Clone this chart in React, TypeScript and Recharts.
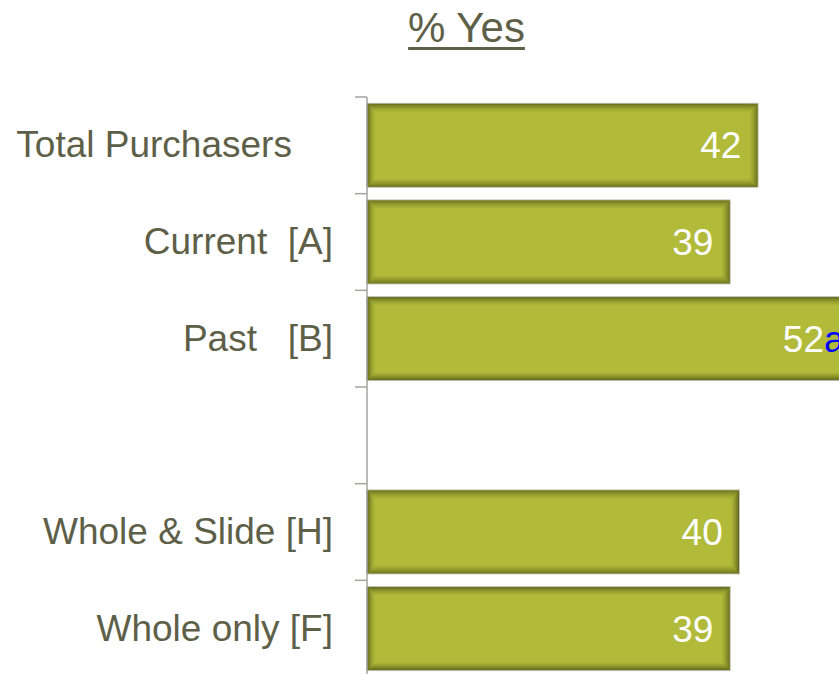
import React from 'react';
import { BarChart, Bar, XAxis, YAxis, LabelList } from 'recharts';

const categories = ['Total Purchasers    ', 'Current  [A]', 'Past   [B]', ' ', 'Whole & Slide [H]', 'Whole only [F]'];
const values = [42, 39, 52, null, 40, 39];
const sigLetters = ['', '', 'a', '', '', ''];

const data = categories.map((name, i) => ({
    name,
    value: values[i],
    label: values[i] == null ? null : `${values[i]}|${sigLetters[i]}`,
}));

const TEXT = '#5e5f48';
const AXIS = '#a3a3a0';
const FONT = '"Liberation Sans", Arial, Helvetica, sans-serif';
const TICK_SIZE = 12;
const TICK_MARGIN = 22;

const shadeAlpha = [0.85, 0.7, 0.55, 0.42, 0.3, 0.2, 0.12, 0.06];

const ShadedBar = (props: any) => {
    const { x, y, width, height } = props;
    if (!width || !height) return null;
    return (
        <g>
            <rect x={x - 0.5} y={y - 0.5} width={width + 1} height={height + 1} fill="#b1bb39" stroke="#c4c4bc" strokeWidth={1} />
            {shadeAlpha.map((a, i) => (
                <rect
                    key={i}
                    x={x + i + 0.5}
                    y={y + i + 0.5}
                    width={Math.max(width - 2 * i - 1, 0)}
                    height={Math.max(height - 2 * i - 1, 0)}
                    fill="none"
                    stroke="#575d1a"
                    strokeOpacity={a}
                    strokeWidth={1}
                />
            ))}
        </g>
    );
};

// tick marks sit on the band edges, not the band centres
const CategoryTick = (props: any) => {
    const { x, y, payload, index, visibleTicksCount } = props;
    const half = payload.offset || 0;
    const x1 = x + TICK_MARGIN;
    const x2 = x + TICK_MARGIN + TICK_SIZE;
    const last = index === (visibleTicksCount ?? categories.length) - 1;
    return (
        <g>
            <line x1={x1} x2={x2} y1={y - half} y2={y - half} stroke={AXIS} strokeWidth={1.5} />
            {last ? <line x1={x1} x2={x2} y1={y + half} y2={y + half} stroke={AXIS} strokeWidth={1.5} /> : null}
            <text x={x} y={y} dy={12} textAnchor="end" fill={TEXT} fontSize={37} fontFamily={FONT} xmlSpace="preserve" style={{ whiteSpace: 'pre' }}>
                {payload.value}
            </text>
        </g>
    );
};

const ValueLabel = (props: any) => {
    const { x, y, width, height, value } = props;
    if (value == null) return null;
    const [num, letter] = String(value).split('|');
    return (
        <text x={x + width - 6} y={y + height / 2} dy={13} textAnchor="end" fontSize={37} fontFamily={FONT} xmlSpace="preserve" style={{ whiteSpace: 'pre' }}>
            <tspan fill="#ffffff">{num}</tspan>
            <tspan fill="#0000ff">{letter || ' '}</tspan>
        </text>
    );
};

export default function App() {
    return (
        <div style={{ position: 'absolute', left: 0, top: 0, width: 839, height: 674, overflow: 'hidden', background: '#fff' }}>
            <div
                style={{
                    position: 'absolute',
                    left: 0,
                    top: 7,
                    width: 933,
                    textAlign: 'center',
                    fontFamily: FONT,
                    fontSize: 42,
                    lineHeight: '42px',
                    color: TEXT,
                    textDecoration: 'underline',
                    textDecorationThickness: '3px',
                    textUnderlineOffset: '5px',
                }}
            >
                % Yes
            </div>
            <div style={{ position: 'absolute', left: 0, top: 0 }}>
                <BarChart
                    width={925}
                    height={680}
                    data={data}
                    layout="vertical"
                    margin={{ top: 97, right: 0, bottom: 3, left: 0 }}
                    barCategoryGap="7%"
                >
                    <XAxis type="number" domain={[0, 60]} hide />
                    <YAxis
                        type="category"
                        dataKey="name"
                        width={367}
                        axisLine={{ stroke: AXIS, strokeWidth: 1.5 }}
                        tickLine={false}
                        tickSize={TICK_SIZE}
                        tickMargin={TICK_MARGIN}
                        tick={<CategoryTick />}
                        interval={0}
                    />
                    <Bar dataKey="value" shape={<ShadedBar />} isAnimationActive={false}>
                        <LabelList dataKey="label" content={<ValueLabel />} />
                    </Bar>
                </BarChart>
            </div>
        </div>
    );
}
